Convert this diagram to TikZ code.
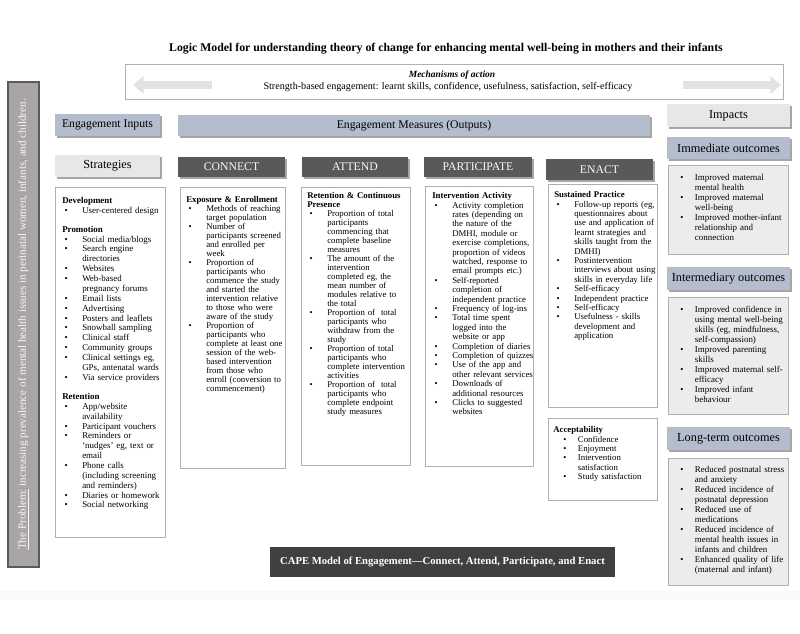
\documentclass[tikz,border=0pt]{standalone}
\usepackage{fontspec}
\setmainfont{Liberation Serif}
\usetikzlibrary{arrows.meta,fit,shadows}

\definecolor{inblue}{RGB}{180,189,206}
\definecolor{inlight}{RGB}{231,231,231}
\definecolor{indark}{RGB}{89,89,89}
\definecolor{capedark}{RGB}{64,64,64}
\definecolor{panelline}{RGB}{175,175,175}
\definecolor{outfill}{RGB}{236,236,236}
\definecolor{probfill}{RGB}{169,165,165}
\definecolor{probline}{RGB}{90,90,90}
\definecolor{arrowgray}{RGB}{226,226,226}

% bullet lists inside the panels
\newlength{\bhang}\setlength{\bhang}{15pt}
\newlength{\bpre}\setlength{\bpre}{2pt}
\newcommand{\brk}{\hfil\break}
\newcommand{\listhead}[1]{\par\noindent\textbf{#1}}
\newcommand{\bitem}[1]{\par\noindent\hangindent=\bhang\hangafter=1\hbox to \bhang{\hspace{\bpre}\textbullet\hfil}#1}

\tikzset{
  shade/.style={drop shadow={shadow xshift=1.3pt,shadow yshift=-1.3pt,fill=black,opacity=0.35}},
  hdr/.style={inner sep=0pt,shade},
  bluehdr/.style={hdr,fill=inblue},
  lighthdr/.style={hdr,fill=inlight},
  darkhdr/.style={hdr,fill=indark},
  hdrtext/.style={inner sep=0pt,font=\fontsize{8.8}{10}\selectfont},
  darktext/.style={hdrtext,text=white!95!gray},
  outtext/.style={hdrtext,font=\fontsize{9.2}{10}\selectfont},
  panel/.style={inner sep=0pt,draw=panelline,fill=white,line width=0.5pt},
  outpanel/.style={inner sep=0pt,draw=panelline,fill=outfill,line width=0.5pt},
  listtext/.style={anchor=north west,inner sep=0pt,text width=95pt,align=left,
    font=\fontsize{6.6}{7.05}\selectfont,
    execute at begin node={\setlength{\bhang}{15pt}\setlength{\bpre}{1.8pt}}},
  tightlist/.style={listtext,font=\fontsize{6.6}{6.75}\selectfont},
  stratlist/.style={listtext,font=\fontsize{6.7}{7.4}\selectfont},
  acclist/.style={listtext,
    execute at begin node={\setlength{\bhang}{18.5pt}\setlength{\bpre}{7.5pt}}},
  outlist/.style={listtext,text width=100pt,font=\fontsize{6.7}{7.5}\selectfont,
    execute at begin node={\setlength{\bhang}{17pt}\setlength{\bpre}{6pt}}},
  mecharrow/.style={draw=arrowgray,line width=5.5pt,-{Triangle[length=8pt,width=13pt]}},
}

\begin{document}
\begin{tikzpicture}[x=0.75pt,y=-0.75pt]
\useasboundingbox (0,0) rectangle (800,633);
\fill[gray!5] (0,591) rectangle (800,600);

% Node: title
\node[font=\fontsize{8.85}{10}\selectfont\bfseries] (title) at (446,49)
  {Logic Model for understanding theory of change for enhancing mental well-being in mothers and their infants};

% Node: mechanisms of action
\node[inner sep=0pt,draw=panelline,line width=0.6pt,fit={(125,64) (783,99)}] (mech) {};
\coordinate (larrowtail) at (212,85);
\coordinate (larrowtip) at (133,85);
\coordinate (rarrowtail) at (683,85);
\coordinate (rarrowtip) at (781,85);
\draw[mecharrow] (larrowtail) -- (larrowtip);
\draw[mecharrow] (rarrowtail) -- (rarrowtip);
\node[font=\fontsize{7.1}{8}\selectfont\bfseries\itshape] (mechhead) at (452,75) {Mechanisms of action};
\node[font=\fontsize{7.6}{8}\selectfont] (mechline) at (448,87)
  {Strength-based engagement: learnt skills, confidence, usefulness, satisfaction, self-efficacy};

% Node: the problem
\node[inner sep=0pt,draw=probline,fill=probfill,line width=0.9pt,fit={(8,82) (39,567)}] (problem) {};
\node[rotate=90,text=white!94!gray,font=\fontsize{8.3}{9}\selectfont] (problemtext) at (problem.center)
  {\underline{The Problem:} increasing prevalence of mental health issues in perinatal women, infants, and children.};

% Node: headers
\node[bluehdr,fit={(55,114) (160,136)}] (inputs) {};
\node[hdrtext] (inputstext) at (inputs.center) {Engagement Inputs};
\node[bluehdr,fit={(178,115) (650,136)}] (outputs) {};
\node[hdrtext] (outputstext) at (outputs.center) {Engagement Measures (Outputs)};
\node[lighthdr,fit={(667,104) (790,127)}] (impacts) {};
\node[outtext] (impactstext) at (impacts.center) {Impacts};
\node[lighthdr,fit={(55,155) (160,177)}] (strategies) {};
\node[outtext] (strategiestext) at (strategies.center) {Strategies};
\node[darkhdr,fit={(178,157) (285,177)}] (connect) {};
\node[darktext] (connecttitle) at (connect.center) {CONNECT};
\node[darkhdr,fit={(302,157) (408,177)}] (attend) {};
\node[darktext] (attendtitle) at (attend.center) {ATTEND};
\node[darkhdr,fit={(424,157) (532,177)}] (participate) {};
\node[darktext] (participatetitle) at (participate.center) {PARTICIPATE};
\node[darkhdr,fit={(546,159) (653,180)}] (enact) {};
\node[darktext] (enacttitle) at (enact.center) {ENACT};

% Node: strategies
\node[panel,fit={(55,187) (165,537)}] (stratbox) {};
\node[stratlist] (strattext) at (62,193) {%
  \listhead{Development}
  \bitem{User-centered design}
  \par\vspace{7pt}
  \listhead{Promotion}
  \bitem{Social media/blogs}
  \bitem{Search engine\brk directories}
  \bitem{Websites}
  \bitem{Web-based\brk pregnancy forums}
  \bitem{Email lists}
  \bitem{Advertising}
  \bitem{Posters and leaflets}
  \bitem{Snowball sampling}
  \bitem{Clinical staff}
  \bitem{Community groups}
  \bitem{Clinical settings eg,\brk GPs, antenatal wards}
  \bitem{Via service providers}
  \par\vspace{7pt}
  \listhead{Retention}
  \bitem{App/website\brk availability}
  \bitem{Participant vouchers}
  \bitem{Reminders or\brk `nudges' eg, text or\brk email}
  \bitem{Phone calls\brk (including screening\brk and reminders)}
  \bitem{Diaries or homework}
  \bitem{Social networking}\par};

% Node: connect
\node[panel,fit={(180,187) (285,468)}] (connectbox) {};
\node[tightlist] (connecttext) at (186,193) {%
  \listhead{Exposure \& Enrollment}
  \bitem{Methods of reaching\brk target population}
  \bitem{Number of\brk participants screened\brk and enrolled per\brk week}
  \bitem{Proportion of\brk participants who\brk commence the study\brk and started the\brk intervention relative\brk to those who were\brk aware of the study}
  \bitem{Proportion of\brk participants who\brk complete at least one\brk session of the web-\brk based intervention\brk from those who\brk enroll (conversion to\brk commencement)}\par};

% Node: attend
\node[panel,fit={(301,187) (410,465)}] (attendbox) {};
\node[tightlist] (attendtext) at (307,189) {%
  \listhead{Retention \& Continuous\brk Presence}
  \bitem{Proportion of total\brk participants\brk commencing that\brk complete baseline\brk measures}
  \bitem{The amount of the\brk intervention\brk completed eg, the\brk mean number of\brk modules relative to\brk the total}
  \bitem{Proportion of\ \ total\brk participants who\brk withdraw from the\brk study}
  \bitem{Proportion of total\brk participants who\brk complete intervention\brk activities}
  \bitem{Proportion of\ \ total\brk participants who\brk complete endpoint\brk study measures}\par};

% Node: participate
\node[panel,fit={(425,186) (533,466)}] (participatebox) {};
\node[listtext] (participatetext) at (432,189) {%
  \listhead{Intervention Activity}
  \bitem{Activity completion\brk rates (depending on\brk the nature of the\brk DMHI, module or\brk exercise completions,\brk proportion of videos\brk watched, response to\brk email prompts etc.)}
  \bitem{Self-reported\brk completion of\brk independent practice}
  \bitem{Frequency of log-ins}
  \bitem{Total time spent\brk logged into the\brk website or app}
  \bitem{Completion of diaries}
  \bitem{Completion of quizzes}
  \bitem{Use of the app and\brk other relevant services}
  \bitem{Downloads of\brk additional resources}
  \bitem{Clicks to suggested\brk websites}\par};

% Node: enact
\node[panel,fit={(548,184) (657,407)}] (enactbox) {};
\node[listtext] (enacttext) at (554,188) {%
  \listhead{Sustained Practice}
  \bitem{Follow-up reports (eg,\brk questionnaires about\brk use and application of\brk learnt strategies and\brk skills taught from the\brk DMHI)}
  \bitem{Postintervention\brk interviews about using\brk skills in everyday life}
  \bitem{Self-efficacy}
  \bitem{Independent practice}
  \bitem{Self-efficacy}
  \bitem{Usefulness - skills\brk development and\brk application}\par};

% Node: acceptability
\node[panel,fit={(548,418) (657,500)}] (accbox) {};
\node[acclist] (acctext) at (553,423) {%
  \listhead{Acceptability}
  \bitem{Confidence}
  \bitem{Enjoyment}
  \bitem{Intervention\brk satisfaction}
  \bitem{Study satisfaction}\par};

% Node: immediate outcomes
\node[bluehdr,fit={(667,137) (790,159)}] (immhdr) {};
\node[outtext] (immtitle) at (immhdr.center) {Immediate outcomes};
\node[outpanel,fit={(668,165) (788,254)}] (immbox) {};
\node[outlist] (immtext) at (672,170) {%
  \bitem{Improved maternal\brk mental health}
  \bitem{Improved maternal\brk well-being}
  \bitem{Improved mother-infant\brk relationship and\brk connection}\par};

% Node: intermediary outcomes
\node[bluehdr,fit={(667,267) (790,290)}] (inthdr) {};
\node[outtext] (inttitle) at (inthdr.center) {Intermediary outcomes};
\node[outpanel,fit={(668,297) (788,414)}] (intbox) {};
\node[outlist] (inttext) at (672,302) {%
  \bitem{Improved confidence in\brk using mental well-being\brk skills (eg, mindfulness,\brk self-compassion)}
  \bitem{Improved parenting\brk skills}
  \bitem{Improved maternal self-\brk efficacy}
  \bitem{Improved infant\brk behaviour}\par};

% Node: long-term outcomes
\node[bluehdr,fit={(667,427) (790,450)}] (longhdr) {};
\node[outtext] (longtitle) at (longhdr.center) {Long-term outcomes};
\node[outpanel,fit={(668,458) (788,585)}] (longbox) {};
\node[outlist] (longtext) at (672,462) {%
  \bitem{Reduced postnatal stress\brk and anxiety}
  \bitem{Reduced incidence of\brk postnatal depression}
  \bitem{Reduced use of\brk medications}
  \bitem{Reduced incidence of\brk mental health issues in\brk infants and children}
  \bitem{Enhanced quality of life\brk (maternal and infant)}\par};

% Node: CAPE model
\node[inner sep=0pt,fill=capedark,fit={(270,547) (615,577)}] (cape) {};
\node[inner sep=0pt,text=white,font=\fontsize{8}{9}\selectfont\bfseries] (capetext) at (cape.center)
  {CAPE Model of Engagement\textemdash Connect, Attend, Participate, and Enact};
\end{tikzpicture}
\end{document}
